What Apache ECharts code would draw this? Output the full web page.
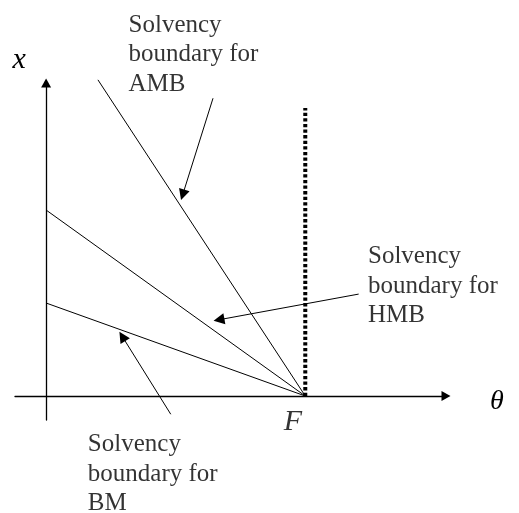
<!DOCTYPE html>
<html>
<head>
<meta charset="utf-8">
<script src="https://cdn.jsdelivr.net/npm/echarts@6/dist/echarts.min.js"></script>
<style>
  html, body { margin: 0; padding: 0; background: #fff; }
  #chart { width: 519px; height: 513px; }
</style>
</head>
<body>
<div id="chart"></div>
<script>
// theta on the horizontal axis, x on the vertical one; F sits at theta = 1
const boundaryNames = ["AMB", "HMB", "BM"];
const boundaryStart = [[0.2, 1.7], [0, 1], [0, 0.5]];
const pointF = [1, 0];
const fTop = 1.548; // top of the dotted line above F

// annotation text and where each block starts (top-left, data units)
const noteText = [
  "Solvency\nboundary for\nAMB",
  "Solvency\nboundary for\nHMB",
  "Solvency\nboundary for\nBM",
];
const noteAnchor = [[0.32, 2.071], [1.244, 0.825], [0.163, -0.184]];

// pointer arrows, tail -> head
const arrowFrom = [[0.644, 1.601], [1.206, 0.548], [0.481, -0.098]];
const arrowTo = [[0.527, 1.082], [0.667, 0.41], [0.294, 0.32]];

const fLabelAnchor = [0.919, -0.064];

const chart = echarts.init(document.getElementById("chart"));

const serif = "Liberation Serif";
const axisLine = {
  onZero: true,
  symbol: ["none", "triangle"],
  symbolSize: [10, 9],
  lineStyle: { color: "#000", width: 1.3 },
};

const series = [];

boundaryNames.forEach((name, i) => {
  series.push({
    name: name,
    type: "line",
    data: [boundaryStart[i], pointF],
    showSymbol: false,
    clip: false,
    silent: true,
    lineStyle: { color: "#000", width: 1 },
  });
});

// dotted vertical at F
series.push({
  type: "line",
  data: [pointF, [pointF[0], fTop]],
  showSymbol: false,
  clip: false,
  silent: true,
  lineStyle: { color: "#000", width: 4, type: [3.3, 2.3], cap: "butt" },
});

// arrows pointing at the boundaries
series.push({
  type: "lines",
  coordinateSystem: "cartesian2d",
  silent: true,
  symbol: ["none", "triangle"],
  symbolSize: [8, 11],
  lineStyle: { color: "#000", width: 1, opacity: 1 },
  data: arrowFrom.map((p, i) => ({ coords: [p, arrowTo[i]] })),
});

// text blocks
series.push({
  type: "scatter",
  symbolSize: 1,
  clip: false,
  silent: true,
  itemStyle: { color: "rgba(0,0,0,0)" },
  label: {
    show: true,
    position: [0, 0],
    formatter: (p) => p.name,
    color: "#000",
    fontFamily: serif,
    fontSize: 25,
    lineHeight: 29.5,
  },
  data: noteText.map((t, i) => ({ name: t, value: noteAnchor[i] })),
});

series.push({
  type: "scatter",
  symbolSize: 1,
  clip: false,
  silent: true,
  itemStyle: { color: "rgba(0,0,0,0)" },
  label: {
    show: true,
    position: [0, 0],
    formatter: "F",
    color: "#000",
    fontFamily: serif,
    fontStyle: "italic",
    fontSize: 30,
    lineHeight: 30,
  },
  data: [fLabelAnchor],
});

chart.setOption({
  animation: false,
  backgroundColor: "#fff",
  grid: { left: 15, right: 73, top: 83, bottom: 93 },
  xAxis: {
    type: "value",
    min: -0.12,
    max: 1.543,
    name: "θ",
    nameLocation: "end",
    nameGap: 44,
    nameTextStyle: {
      fontFamily: serif,
      fontStyle: "italic",
      fontSize: 28,
      color: "#000",
      verticalAlign: "top",
      lineHeight: 11,
    },
    axisLine: axisLine,
    axisTick: { show: false },
    axisLabel: { show: false },
    splitLine: { show: false },
  },
  yAxis: {
    type: "value",
    min: -0.129,
    max: 1.683,
    name: "x",
    nameLocation: "end",
    nameGap: 8,
    nameTextStyle: {
      fontFamily: serif,
      fontStyle: "italic",
      fontSize: 30,
      color: "#000",
      padding: [0, 54, 0, 0],
    },
    axisLine: axisLine,
    axisTick: { show: false },
    axisLabel: { show: false },
    splitLine: { show: false },
  },
  series: series,
});
</script>
</body>
</html>
